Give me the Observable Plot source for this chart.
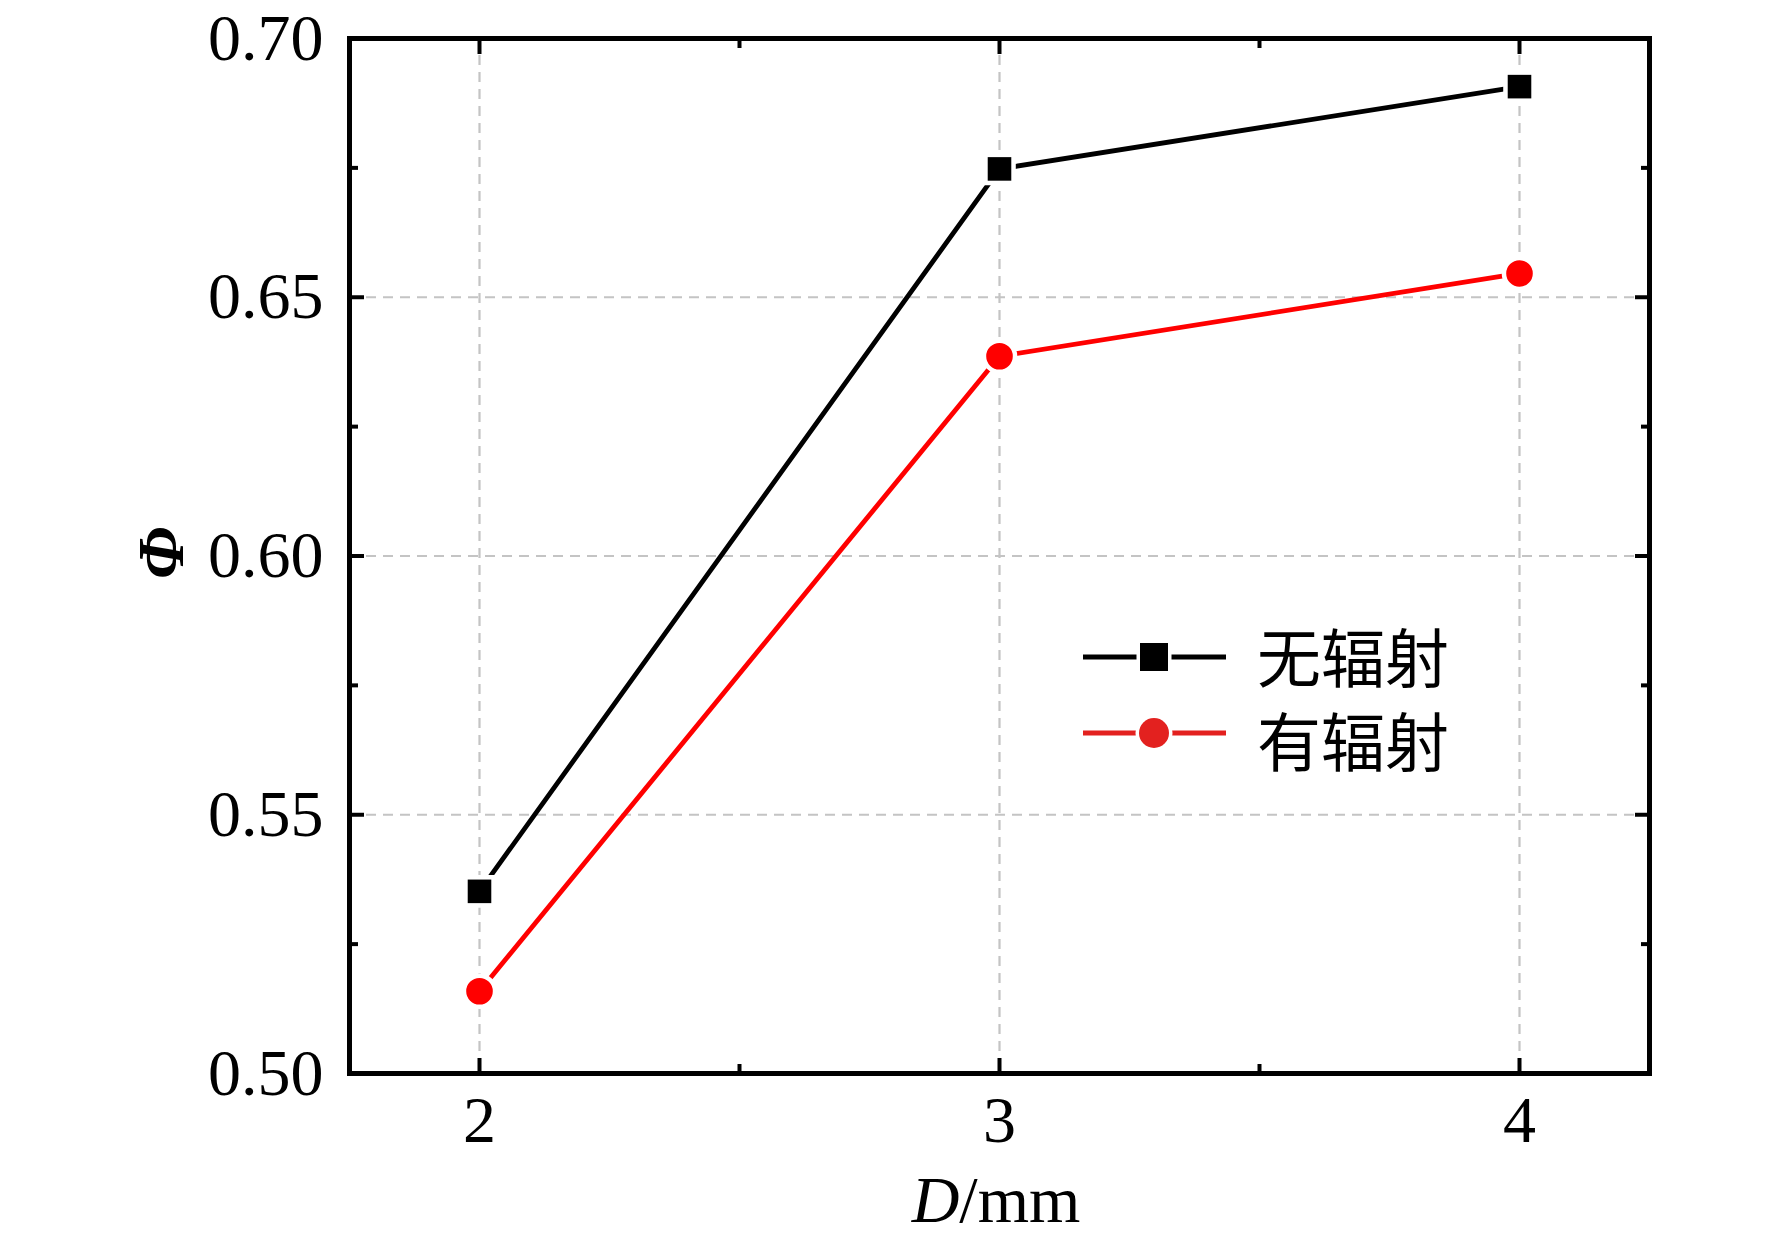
<!DOCTYPE html>
<html><head><meta charset="utf-8">
<script src="https://cdn.jsdelivr.net/npm/d3@7"></script>
<script src="https://cdn.jsdelivr.net/npm/@observablehq/plot@0.6"></script>
<style>body{margin:0;background:#fff} #chart{position:relative;width:1772px;height:1241px}</style>
</head><body><div id="chart"></div>
<script>
// ---- data ----
const diameters = [2, 3, 4];
const noRadiation = [0.5352, 0.6748, 0.6907];
const withRadiation = [0.5159, 0.6386, 0.6546];
const seriesNames = ["无辐射", "有辐射"];
const seriesColors = ["#000000", "#ff0000"];
const legendColors = ["#000000", "#e3211f"];
const seriesSymbols = ["square", "circle"];
const xMajorTicks = [2, 3, 4];
const xMinorTicks = [2.5, 3.5];
const yMajorTicks = [0.50, 0.55, 0.60, 0.65, 0.70];
const yMinorTicks = [0.525, 0.575, 0.625, 0.675];
const xGrid = [2, 3, 4];
const yGrid = [0.55, 0.60, 0.65];
const xLabelItalic = "D";
const xLabelRest = "/mm";
const yLabel = "Φ";

const rows = [
  ...diameters.map((d, i) => ({D: d, phi: noRadiation[i], s: seriesNames[0]})),
  ...diameters.map((d, i) => ({D: d, phi: withRadiation[i], s: seriesNames[1]}))
];

const W = 1772, H = 1241;
const mL = 349, mR = 123, mT = 38, mB = 168;
const serif = "'Liberation Serif', 'Times New Roman', serif";

const blank = () => "";
const plot = Plot.plot({
  width: W, height: H,
  marginLeft: mL, marginRight: mR, marginTop: mT, marginBottom: mB,
  style: {fontFamily: serif, fontSize: "66px", color: "black", background: "white"},
  x: {domain: [1.75, 4.25], axis: null},
  y: {domain: [0.5, 0.7], axis: null},
  color: {domain: seriesNames, range: seriesColors},
  symbol: {domain: seriesNames, range: seriesSymbols},
  marks: [
    Plot.gridX(xGrid, {stroke: "#c4c4c4", strokeOpacity: 1, strokeWidth: 2.2, strokeDasharray: "10,7"}),
    Plot.gridY(yGrid, {stroke: "#c4c4c4", strokeOpacity: 1, strokeWidth: 2.2, strokeDasharray: "10,7"}),
    Plot.line(rows, {x: "D", y: "phi", z: "s", stroke: "s", strokeWidth: 4.8}),
    Plot.dot(rows, {x: "D", y: "phi", symbol: "s", fill: "s", r: 13.3, stroke: "white", strokeWidth: 9, paintOrder: "stroke"}),
    Plot.frame({stroke: "black", strokeWidth: 5}),
    // inward major ticks on all sides
    Plot.axisX(xMajorTicks, {anchor: "bottom", tickSize: -15, strokeWidth: 4, tickFormat: blank, label: null}),
    Plot.axisX(xMajorTicks, {anchor: "top", tickSize: -15, strokeWidth: 4, tickFormat: blank, label: null}),
    Plot.axisY(yMajorTicks, {anchor: "left", tickSize: -15, strokeWidth: 4, tickFormat: blank, label: null}),
    Plot.axisY(yMajorTicks, {anchor: "right", tickSize: -15, strokeWidth: 4, tickFormat: blank, label: null}),
    // inward minor ticks
    Plot.axisX(xMinorTicks, {anchor: "bottom", tickSize: -9, strokeWidth: 4, tickFormat: blank, label: null}),
    Plot.axisX(xMinorTicks, {anchor: "top", tickSize: -9, strokeWidth: 4, tickFormat: blank, label: null}),
    Plot.axisY(yMinorTicks, {anchor: "left", tickSize: -9, strokeWidth: 4, tickFormat: blank, label: null}),
    Plot.axisY(yMinorTicks, {anchor: "right", tickSize: -9, strokeWidth: 4, tickFormat: blank, label: null}),
    // tick labels
    Plot.axisX(xMajorTicks, {anchor: "bottom", tickSize: 0, tickPadding: 22, fontSize: 66, tickFormat: d3.format("d"), label: null}),
    Plot.axisY(yMajorTicks, {anchor: "left", tickSize: 0, tickPadding: 26, fontSize: 66, tickFormat: d3.format(".2f"), label: null})
  ]
});
document.getElementById("chart").appendChild(plot);

const svg = d3.select(plot);
// x axis label
const xl = svg.append("text")
  .attr("x", 996).attr("y", 1222)
  .attr("text-anchor", "middle")
  .attr("font-family", serif).attr("font-size", 66).attr("fill", "black");
xl.append("tspan").attr("font-style", "italic").text(xLabelItalic);
xl.append("tspan").text(xLabelRest);
// y axis label
svg.append("text")
  .attr("transform", "translate(160,553) rotate(-90)")
  .attr("text-anchor", "middle").attr("dominant-baseline", "central")
  .attr("font-family", serif).attr("font-size", 66)
  .attr("font-style", "italic").attr("font-weight", "bold").attr("fill", "black")
  .text(yLabel);

// legend
const lg = svg.append("g");
const rowsY = [657, 733];
const textY = [654, 738];
seriesNames.forEach((name, i) => {
  const y = rowsY[i], c = legendColors[i];
  lg.append("line").attr("x1", 1083).attr("x2", 1226).attr("y1", y).attr("y2", y)
    .attr("stroke", c).attr("stroke-width", 5);
  if (seriesSymbols[i] === "square") {
    lg.append("rect").attr("x", 1154 - 14).attr("y", y - 14).attr("width", 28).attr("height", 28)
      .attr("fill", c).attr("stroke", "white").attr("stroke-width", 7).attr("paint-order", "stroke");
  } else {
    lg.append("circle").attr("cx", 1154).attr("cy", y).attr("r", 15)
      .attr("fill", c).attr("stroke", "white").attr("stroke-width", 7).attr("paint-order", "stroke");
  }
  lg.append("text").attr("x", 1257).attr("y", textY[i])
    .attr("text-anchor", "start")
    .attr("dominant-baseline", "central")
    .attr("font-family", "'Noto Sans CJK SC', sans-serif").attr("font-size", 64)
    .attr("fill", "black").text(name);
});
</script>
</body></html>
